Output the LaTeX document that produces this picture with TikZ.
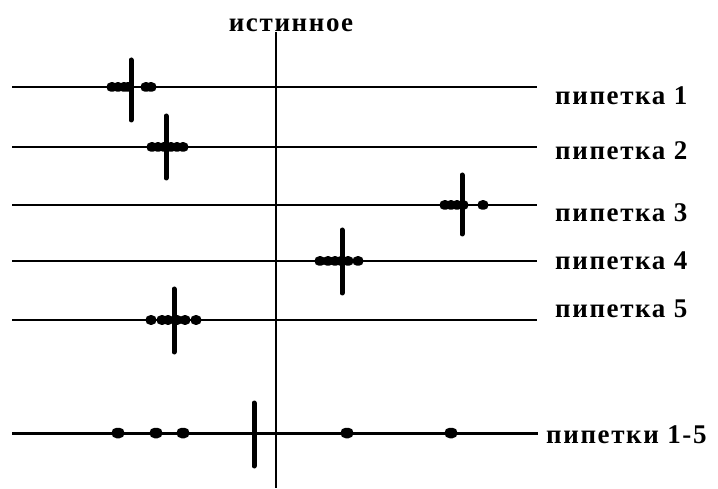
\documentclass[tikz,border=0pt]{standalone}
\usepackage{fontspec}
\setmainfont{Liberation Serif}[BoldFont={Liberation Serif Bold}]
\newfontfamily\pipfont{Liberation Serif Bold}[LetterSpace=6]
\usetikzlibrary{positioning}
\tikzset{
  scaleline/.style={
    line width=2pt,
    draw=black
    },
  totalline/.style={
    line width=3pt,
    draw=black
    },
  meanbar/.style={
    line width=5pt,
    line cap=round,
    draw=black
    },
  shot/.style={
    rectangle,
    rounded corners=4.5pt,
    minimum width=11pt,
    minimum height=9.5pt,
    inner sep=0pt,
    fill=black
    },
  bigshot/.style={
    shot,
    rounded corners=5pt,
    minimum width=13pt,
    minimum height=10.5pt
    },
  pipname/.style={
    anchor=base west,
    inner sep=0pt,
    font=\pipfont\fontsize{27}{32}\selectfont
    },
}

\begin{document}
\begin{tikzpicture}[x=1pt,y=-1pt]
\useasboundingbox (0,0) rectangle (718,489);

% true value
\node (title) [pipname,anchor=base] at (291,32) {истинное};
\coordinate (truetop) at (275.5,32);
\coordinate (truebot) at (275.5,488);

% scale lines
\coordinate (l1) at (12,87);   \coordinate (r1) at (537,87);
\coordinate (l2) at (12,147);  \coordinate (r2) at (537,147);
\coordinate (l3) at (12,205);  \coordinate (r3) at (537,205);
\coordinate (l4) at (12,261);  \coordinate (r4) at (537,261);
\coordinate (l5) at (12,320);  \coordinate (r5) at (537,320);
\coordinate (l6) at (12,433);  \coordinate (r6) at (538,433);
\draw[scaleline] (l1) -- (r1);
\draw[scaleline] (l2) -- (r2);
\draw[scaleline] (l3) -- (r3);
\draw[scaleline] (l4) -- (r4);
\draw[scaleline] (l5) -- (r5);
\draw[totalline] (l6) -- (r6);
\draw[scaleline] (truetop) -- (truebot);

\node (p1) [pipname] at (555,105) {пипетка 1};
\node (p2) [pipname] at (555,160) {пипетка 2};
\node (p3) [pipname] at (555,222) {пипетка 3};
\node (p4) [pipname] at (555,270) {пипетка 4};
\node (p5) [pipname] at (555,318) {пипетка 5};
\node (pall) [pipname] at (546,443) {пипетки 1-5};

% single measurements
\foreach \x in {112,118,124,128,146,151}
  \node[shot] at (\x,87) {};
\foreach \x in {152,158,164,171,177,183}
  \node[shot] at (\x,147) {};
\foreach \x in {445,451,457,463,483}
  \node[shot] at (\x,205) {};
\foreach \x in {320,328,335,341,348,358}
  \node[shot] at (\x,261) {};
\foreach \x in {151,162,168,177,185,196}
  \node[shot] at (\x,320) {};
\foreach \x in {118,156,183,347,451}
  \node[bigshot] at (\x,433) {};

% means
\coordinate (m1a) at (131,60);  \coordinate (m1b) at (131,120);
\coordinate (m2a) at (166,116); \coordinate (m2b) at (166,178);
\coordinate (m3a) at (462,175); \coordinate (m3b) at (462,234);
\coordinate (m4a) at (342,230); \coordinate (m4b) at (342,293);
\coordinate (m5a) at (174,289); \coordinate (m5b) at (174,352);
\coordinate (m6a) at (254,403); \coordinate (m6b) at (254,466);
\draw[meanbar] (m1a) -- (m1b);
\draw[meanbar] (m2a) -- (m2b);
\draw[meanbar] (m3a) -- (m3b);
\draw[meanbar] (m4a) -- (m4b);
\draw[meanbar] (m5a) -- (m5b);
\draw[meanbar] (m6a) -- (m6b);
\end{tikzpicture}
\end{document}
